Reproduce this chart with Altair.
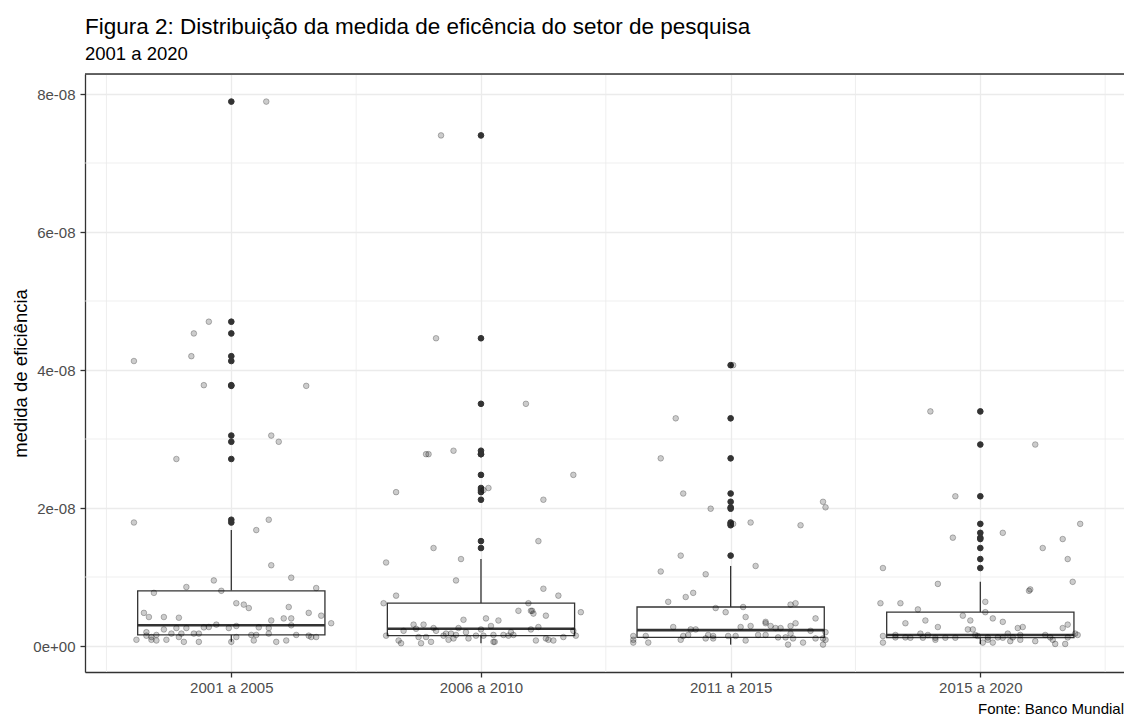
import altair as alt
import pandas as pd

# Períodos (categorias do eixo x)
GRUPOS = ["2001 a 2005", "2006 a 2010", "2011 a 2015", "2015 a 2020"]

# Medida de eficiência, em unidades de 1e-08, e deslocamento horizontal (jitter) de cada ponto
valores_g1 = [7.89, 4.70, 4.53, 4.20, 4.13, 3.78, 3.77, 3.05, 2.96, 2.71, 1.83, 1.79, 1.68, 1.17,
              0.99, 0.95, 0.855, 0.84, 0.80, 0.77, 0.62, 0.60, 0.565, 0.55, 0.48, 0.48, 0.44, 0.42,
              0.42, 0.41, 0.40, 0.40, 0.37, 0.33, 0.31, 0.30, 0.29, 0.275, 0.27, 0.27, 0.26, 0.26,
              0.26, 0.26, 0.24, 0.20, 0.18, 0.18, 0.18, 0.18, 0.18, 0.16, 0.16, 0.16, 0.16, 0.15,
              0.15, 0.13, 0.13, 0.13, 0.13, 0.13, 0.09, 0.09, 0.08, 0.09, 0.06, 0.06, 0.06, 0.08,
              0.06, 0.08]
jitter_g1 = [0.14, -0.09, -0.15, -0.16, -0.39, -0.11, 0.30, 0.16, 0.19, -0.22, 0.15, -0.39, 0.10, 0.16,
             0.24, -0.07, -0.18, 0.34, -0.04, -0.31, 0.02, 0.05, 0.23, 0.07, -0.35, 0.31, 0.36, -0.33,
             -0.27, -0.21, 0.21, 0.24, 0.16, 0.40, -0.06, 0.24, 0.02, -0.09, -0.11, 0.11, -0.01, 0.15,
             -0.18, -0.22, -0.27, -0.34, -0.24, -0.20, -0.15, -0.13, 0.15, -0.30, 0.08, 0.10, 0.26, -0.34,
             0.31, 0.32, 0.34, -0.21, -0.32, 0.02, -0.38, -0.32, -0.30, -0.26, -0.19, -0.13, 0.00, 0.09,
             0.18, 0.22]

valores_g2 = [7.40, 4.46, 3.51, 2.83, 2.78, 2.78, 2.48, 2.29, 2.26, 2.23, 2.12, 1.52, 1.42, 1.26,
              1.21, 0.95, 0.83, 0.73, 0.73, 0.62, 0.62, 0.51, 0.51, 0.51, 0.47, 0.44, 0.49, 0.40,
              0.38, 0.37, 0.31, 0.31, 0.29, 0.275, 0.25, 0.26, 0.26, 0.24, 0.24, 0.22, 0.22, 0.20,
              0.20, 0.22, 0.18, 0.18, 0.16, 0.15, 0.15, 0.15, 0.15, 0.16, 0.16, 0.16, 0.15, 0.15,
              0.13, 0.13, 0.11, 0.09, 0.11, 0.11, 0.13, 0.08, 0.04, 0.04, 0.06, 0.06, 0.06, 0.08,
              0.09, 0.08]
jitter_g2 = [-0.16, -0.18, 0.18, -0.11, -0.22, -0.21, 0.37, 0.03, 0.01, -0.34, 0.25, 0.23, -0.19, -0.08,
             -0.38, -0.10, 0.25, 0.31, -0.34, -0.39, 0.19, 0.15, 0.20, 0.205, 0.21, 0.26, 0.40, 0.02,
             -0.07, 0.07, -0.27, -0.23, 0.04, 0.23, -0.26, -0.19, -0.09, 0.20, 0.00, -0.31, -0.18, -0.06,
             0.12, 0.37, -0.14, -0.12, -0.10, -0.38, -0.15, -0.02, 0.01, 0.05, 0.09, 0.13, 0.11, 0.38,
             -0.25, -0.22, -0.05, -0.13, -0.11, 0.26, 0.33, -0.33, -0.32, -0.24, -0.20, 0.05, 0.055, 0.22,
             0.27, 0.29]

valores_g3 = [4.07, 3.30, 2.72, 2.21, 2.09, 2.01, 1.99, 1.79, 1.77, 1.75, 1.31, 1.16, 1.08, 1.04,
              0.77, 0.71, 0.64, 0.60, 0.62, 0.565, 0.55, 0.49, 0.42, 0.40, 0.35, 0.33, 0.29, 0.33,
              0.29, 0.29, 0.275, 0.275, 0.26, 0.26, 0.24, 0.24, 0.22, 0.20, 0.16, 0.16, 0.18, 0.16,
              0.145, 0.145, 0.145, 0.16, 0.145, 0.145, 0.145, 0.125, 0.125, 0.11, 0.11, 0.11, 0.09,
              0.05, 0.05, 0.09, 0.11, 0.11, 0.08, 0.02, 0.05, 0.02, 0.09]
jitter_g3 = [0.01, -0.22, -0.28, -0.19, 0.37, 0.38, -0.08, 0.08, 0.01, 0.28, -0.20, 0.10, -0.28, -0.10,
             -0.15, -0.18, -0.25, 0.24, 0.26, 0.05, -0.06, -0.02, 0.06, 0.34, 0.14, 0.14, 0.16, 0.26,
             0.08, 0.24, -0.23, 0.04, 0.20, 0.18, -0.14, -0.16, 0.32, 0.38, 0.14, 0.11, 0.24, -0.17,
             -0.19, -0.34, -0.39, -0.09, -0.07, -0.01, 0.02, 0.19, 0.22, 0.25, 0.34, 0.37, -0.39,
             -0.39, -0.33, -0.20, -0.10, -0.07, 0.06, 0.23, 0.29, 0.37, 0.38]

valores_g4 = [3.40, 2.92, 2.17, 1.77, 1.64, 1.57, 1.55, 1.42, 1.26, 1.13, 0.93, 0.90, 0.82, 0.80,
              0.62, 0.62, 0.64, 0.53, 0.49, 0.44, 0.37, 0.40, 0.35, 0.37, 0.33, 0.31, 0.275, 0.26,
              0.275, 0.26, 0.24, 0.24, 0.18, 0.16, 0.18, 0.16, 0.16, 0.18, 0.16, 0.145, 0.16, 0.16,
              0.125, 0.125, 0.12, 0.12, 0.12, 0.12, 0.12, 0.145, 0.125, 0.125, 0.12, 0.125, 0.125,
              0.125, 0.09, 0.05, 0.05, 0.05, 0.07, 0.09, 0.07, 0.09, 0.03, 0.03, 0.09]
jitter_g4 = [-0.20, 0.22, -0.10, 0.40, 0.09, -0.11, 0.33, 0.25, 0.35, -0.39, 0.37, -0.17, 0.20, 0.195,
             -0.40, -0.32, 0.02, -0.25, 0.02, -0.07, -0.04, 0.05, 0.09, -0.22, -0.30, 0.35, -0.17, 0.15,
             0.17, 0.33, -0.05, -0.03, -0.24, -0.21, 0.11, 0.16, 0.26, 0.38, 0.39, -0.39, -0.34, -0.02,
             -0.34, -0.30, -0.28, -0.23, -0.18, -0.14, -0.10, -0.01, 0.03, 0.07, 0.09, 0.13, 0.28,
             0.35, -0.18, -0.39, 0.01, 0.05, 0.12, 0.16, 0.22, 0.29, 0.30, 0.34, 0.03]

# Estatísticas das caixas (unidades de 1e-08)
Q1 = [0.16, 0.15, 0.125, 0.12]
MEDIANA = [0.30, 0.25, 0.23, 0.16]
Q3 = [0.80, 0.62, 0.565, 0.49]

ESCALA = 1e-8
TITULO = "Figura 2: Distribuição da medida de eficência do setor de pesquisa"
SUBTITULO = "2001 a 2020"
TITULO_Y = "medida de eficiência"
FONTE = "Fonte: Banco Mundial"

TICKS_Y = [0, 2, 4, 6, 8]
MENORES_Y = [1, 3, 5, 7]
MENORES_X = [0.5, 1.5, 2.5, 3.5, 4.5]

FONT = "Liberation Sans"
ESCURO = "#333333"
GRADE = "#ebebeb"
LARGURA_CAIXA = 0.75

valores = [valores_g1, valores_g2, valores_g3, valores_g4]
jitters = [jitter_g1, jitter_g2, jitter_g3, jitter_g4]

pontos = []
caixas = []
outliers = []
for i, (g, vals, jit) in enumerate(zip(GRUPOS, valores, jitters), start=1):
    for v, j in zip(vals, jit):
        pontos.append({"grupo": g, "pos": i + j, "valor": v * ESCALA})
    iqr = Q3[i - 1] - Q1[i - 1]
    lim_sup = Q3[i - 1] + 1.5 * iqr
    lim_inf = Q1[i - 1] - 1.5 * iqr
    dentro = [v for v in vals if lim_inf <= v <= lim_sup]
    caixas.append({
        "grupo": g, "pos": i,
        "esq": i - LARGURA_CAIXA / 2, "dir": i + LARGURA_CAIXA / 2,
        "q1": Q1[i - 1] * ESCALA, "mediana": MEDIANA[i - 1] * ESCALA, "q3": Q3[i - 1] * ESCALA,
        "inf": min(dentro) * ESCALA, "sup": max(dentro) * ESCALA,
    })
    for v in vals:
        if v > lim_sup or v < lim_inf:
            outliers.append({"grupo": g, "pos": i, "valor": v * ESCALA})

df_pontos = pd.DataFrame(pontos)
df_caixas = pd.DataFrame(caixas)
df_out = pd.DataFrame(outliers)

W, H = 1039, 598
X_DOM = [0.414, 4.5755]
Y_DOM = [-0.3768 * ESCALA, 8.2899 * ESCALA]

rotulos_x = "[''," + ",".join(f"'{g}'" for g in GRUPOS) + "][datum.value]"

x_scale = alt.Scale(domain=X_DOM, nice=False, zero=False)
y_scale = alt.Scale(domain=Y_DOM, nice=False, zero=False)

eixo_x = alt.Axis(
    values=[1, 2, 3, 4], labelExpr=rotulos_x, title=None,
    grid=True, gridColor=GRADE, gridWidth=1.3,
    domainColor=ESCURO, domainWidth=1.3,
    tickColor=ESCURO, tickSize=5, tickWidth=1.3,
    labelColor="#4d4d4d", labelFont=FONT, labelFontSize=15, labelPadding=3,
)
eixo_y = alt.Axis(
    values=[t * ESCALA for t in TICKS_Y],
    labelExpr="datum.value == 0 ? '0e+00' : round(datum.value * 1e8) + 'e-08'",
    title=TITULO_Y, titleFont=FONT, titleFontSize=18.5, titleFontWeight="normal",
    titleColor="black", titleAngle=270, titleAlign="center", titleBaseline="middle",
    titleX=-65, titleY=H / 2,
    grid=True, gridColor=GRADE, gridWidth=1.3,
    domainColor=ESCURO, domainWidth=1.3,
    tickColor=ESCURO, tickSize=5, tickWidth=1.3,
    labelColor="#4d4d4d", labelFont=FONT, labelFontSize=15, labelPadding=5,
)

# Grade secundária
grade_x = alt.Chart(pd.DataFrame({"pos": MENORES_X})).mark_rule(
    color=GRADE, strokeWidth=0.8
).encode(x=alt.X("pos:Q", scale=x_scale, axis=eixo_x))

grade_y = alt.Chart(pd.DataFrame({"valor": [m * ESCALA for m in MENORES_Y]})).mark_rule(
    color=GRADE, strokeWidth=0.8
).encode(y=alt.Y("valor:Q", scale=y_scale, axis=eixo_y))

base_caixa = alt.Chart(df_caixas)

bigode_sup = base_caixa.mark_rule(color=ESCURO, strokeWidth=1.3).encode(
    x=alt.X("pos:Q", scale=x_scale), y=alt.Y("q3:Q", scale=y_scale), y2="sup:Q"
)
bigode_inf = base_caixa.mark_rule(color=ESCURO, strokeWidth=1.3).encode(
    x=alt.X("pos:Q", scale=x_scale), y=alt.Y("inf:Q", scale=y_scale), y2="q1:Q"
)
caixa = base_caixa.mark_rect(fill="white", stroke=ESCURO, strokeWidth=1.3).encode(
    x=alt.X("esq:Q", scale=x_scale), x2="dir:Q",
    y=alt.Y("q1:Q", scale=y_scale), y2="q3:Q",
)
mediana = base_caixa.mark_rule(color=ESCURO, strokeWidth=2.6).encode(
    x=alt.X("esq:Q", scale=x_scale), x2="dir:Q",
    y=alt.Y("mediana:Q", scale=y_scale),
)

pontos_out = alt.Chart(df_out).mark_circle(
    size=32, color=ESCURO, opacity=1, stroke=ESCURO, strokeWidth=1
).encode(x=alt.X("pos:Q", scale=x_scale), y=alt.Y("valor:Q", scale=y_scale))

pontos_jit = alt.Chart(df_pontos).mark_circle(
    size=32, fill="black", fillOpacity=0.2, stroke="black", strokeOpacity=0.25, strokeWidth=1
).encode(x=alt.X("pos:Q", scale=x_scale), y=alt.Y("valor:Q", scale=y_scale))

borda_topo = alt.Chart(pd.DataFrame({"a": [0]})).mark_rule(
    color=ESCURO, strokeWidth=1.3
).encode(x=alt.value(0), x2=alt.value(W), y=alt.value(0))

fonte = alt.Chart(pd.DataFrame({"texto": [FONTE]})).mark_text(
    align="right", baseline="alphabetic", font=FONT, fontSize=15, color="black"
).encode(x=alt.value(W), y=alt.value(640), text="texto:N")

chart = alt.layer(
    grade_x, grade_y, bigode_sup, bigode_inf, caixa, mediana, pontos_out, pontos_jit,
    borda_topo, fonte,
).properties(
    width=W, height=H,
    autosize=alt.AutoSizeParams(type="none"),
    padding={"left": 85, "top": 74, "right": 0, "bottom": 48},
    title=alt.TitleParams(
        text=TITULO, subtitle=SUBTITULO, anchor="start", frame="group",
        font=FONT, fontSize=22.5, fontWeight="normal", color="black",
        subtitleFont=FONT, subtitleFontSize=18.5, subtitleColor="black",
        subtitlePadding=6, offset=10,
    ),
).configure_view(stroke=None).configure(background="white")

chart.save("out.html", embed_options={"renderer": "svg", "actions": False})
